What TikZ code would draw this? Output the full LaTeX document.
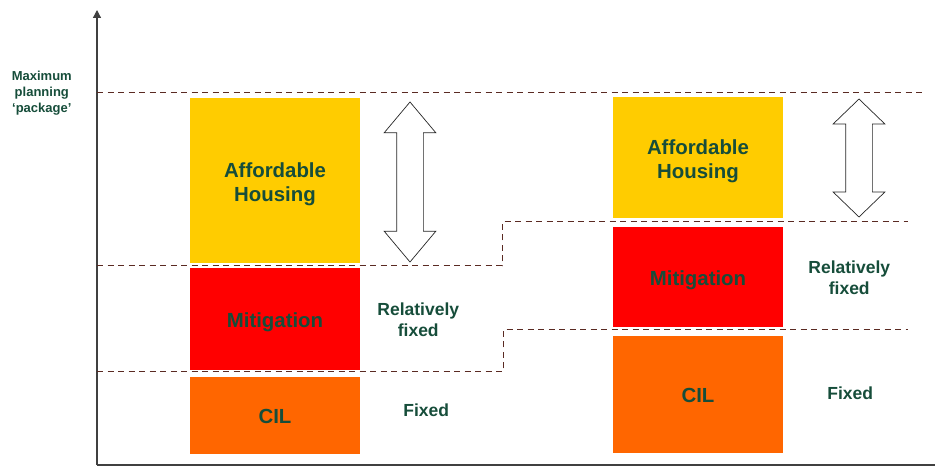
\documentclass[tikz,border=0pt]{standalone}
\usepackage{fontspec}
\setmainfont{Liberation Sans}
\usepackage{xcolor}
\usepackage{tikz}
\usetikzlibrary{shapes,arrows.meta,positioning,calc}
\definecolor{labelgreen}{HTML}{164D3A}
\definecolor{ahyellow}{HTML}{FFCC00}
\definecolor{mitred}{HTML}{FF0000}
\definecolor{cilorange}{HTML}{FF6600}
\definecolor{cutbrown}{HTML}{5A2A22}
\tikzstyle{block} = [rectangle, minimum width=170pt, inner sep=0pt, text height=21pt, text centered, align=center, text=labelgreen, font=\bfseries\fontsize{20.4}{24}\selectfont]
\tikzstyle{ahblock} = [block, fill=ahyellow, text height=47pt]
\tikzstyle{mitblock} = [block, fill=mitred]
\tikzstyle{cilblock} = [block, fill=cilorange, text height=17pt]
\tikzstyle{note} = [inner sep=0pt, align=center, text=labelgreen, font=\bfseries\fontsize{17.5}{21}\selectfont]
\tikzstyle{spanarrow} = [double arrow, rotate=90, draw=black!85, fill=white, line width=0.7pt, minimum width=51pt, inner xsep=0pt, inner ysep=13pt, double arrow head extend=12.5pt, double arrow head indent=0pt]
\tikzstyle{cutline} = [draw=cutbrown, line width=1pt, dash pattern=on 6pt off 4.5pt]
\tikzstyle{axis} = [draw=black!75, line width=1.2pt]

\begin{document}
\begin{tikzpicture}[x=1pt, y=1pt]
				\useasboundingbox (0,0) rectangle (935,469);
				% axes
				\coordinate (origin) at (97,4);
				\coordinate (ytop) at (97,459);
				\coordinate (xend) at (935,4);
				\draw [axis, -{Triangle[length=8pt,width=8pt]}] (origin) -- (ytop);
				\draw [axis] (origin) -- (xend);

				% levels
				\coordinate (top0) at (97,376);
				\coordinate (top1) at (925,376);
				\coordinate (mid0) at (97,203);
				\coordinate (midstep) at (502,203);
				\coordinate (mid1) at (908,247);
				\coordinate (low0) at (97,97);
				\coordinate (lowstep) at (503,97);
				\coordinate (low1) at (908,139);
				\draw [cutline] (top0) -- (top1);
				\draw [cutline] (mid0) -- (midstep) |- (mid1);
				\draw [cutline] (low0) -- (lowstep) |- (low1);
				\node (maxlabel) [left=25pt of top0, inner sep=0pt, align=center, text=labelgreen, font=\bfseries\fontsize{13}{16}\selectfont] {Maximum\\planning\\‘package’};

				% first column
				\node (ah1) [ahblock, minimum height=165pt] at (275,288.5) {Affordable\\Housing};
				\node (mit1) [mitblock, minimum height=102pt, below=5pt of ah1] {Mitigation};
				\node (cil1) [cilblock, minimum height=77pt, below=6pt of mit1] {CIL};
				\node (span1) [spanarrow, minimum height=160pt, double arrow tip angle=80] at (410,287) {};
				\node (rel1) [note, right=17pt of mit1] {Relatively\\fixed};
				\node (fix1) [note, right=43pt of cil1, yshift=5.5pt] {Fixed};

				% second column
				\node (ah2) [ahblock, minimum height=121pt] at (698,311.5) {Affordable\\Housing};
				\node (mit2) [mitblock, minimum height=100pt, below=9pt of ah2] {Mitigation};
				\node (cil2) [cilblock, minimum height=117pt, below=8pt of mit2] {CIL};
				\node (span2) [spanarrow, minimum height=118pt, double arrow tip angle=92] at (859,311) {};
				\node (rel2) [note, right=25pt of mit2] {Relatively\\fixed};
				\node (fix2) [note, right=44pt of cil2, yshift=1.5pt] {Fixed};
			\end{tikzpicture}
\end{document}
